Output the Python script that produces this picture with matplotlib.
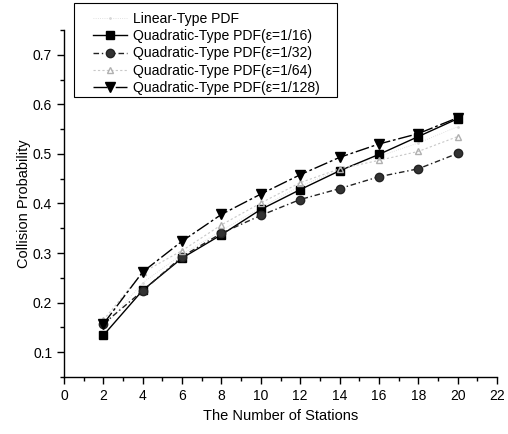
import matplotlib
matplotlib.use("Agg")
import matplotlib.pyplot as plt
from matplotlib.patches import Rectangle
from matplotlib.ticker import MultipleLocator

plt.rcParams['font.family'] = ['Liberation Sans', 'DejaVu Sans']

stations = [2, 4, 6, 8, 10, 12, 14, 16, 18, 20]
linear_pdf = [0.150, 0.240, 0.298, 0.345, 0.392, 0.435, 0.468, 0.495, 0.522, 0.555]
quad_16 = [0.134, 0.225, 0.290, 0.337, 0.388, 0.428, 0.466, 0.499, 0.535, 0.571]
quad_32 = [0.157, 0.224, 0.293, 0.340, 0.376, 0.408, 0.430, 0.454, 0.470, 0.501]
quad_64 = [0.165, 0.261, 0.305, 0.357, 0.401, 0.442, 0.470, 0.487, 0.505, 0.535]
quad_128 = [0.157, 0.262, 0.324, 0.378, 0.419, 0.458, 0.493, 0.520, 0.541, 0.573]

labels = [
    "Linear-Type PDF",
    "Quadratic-Type PDF(\u03b5=1/16)",
    "Quadratic-Type PDF(\u03b5=1/32)",
    "Quadratic-Type PDF(\u03b5=1/64)",
    "Quadratic-Type PDF(\u03b5=1/128)",
]

W, H = 508, 434
fig = plt.figure(figsize=(W / 100, H / 100), dpi=100)
ax = fig.add_axes([64 / W, 1 - 377 / H, (497 - 64) / W, (377 - 30) / H])

ax.plot(stations, linear_pdf, color='#d8d8d8', lw=0.6, ls=':', marker='.', ms=2,
        label=labels[0])
ax.plot(stations, quad_16, color='black', lw=1.0, ls='-', marker='s', ms=6,
        label=labels[1])
ax.plot(stations, quad_32, color='#222222', lw=1.0, ls=(0, (4, 2, 1, 2)), marker='o', ms=6,
        markerfacecolor='#333333', label=labels[2])
ax.plot(stations, quad_64, color='#c8c8c8', lw=0.8, ls=(0, (2, 2)), marker='^', ms=5,
        markerfacecolor='none', markeredgecolor='#b0b0b0', label=labels[3])
ax.plot(stations, quad_128, color='black', lw=1.0, ls=(0, (10, 2, 2, 2)), marker='v', ms=7,
        label=labels[4])

ax.set_xlim(0, 22)
ax.set_ylim(0.05, 0.75)
ax.xaxis.set_major_locator(MultipleLocator(2))
ax.xaxis.set_minor_locator(MultipleLocator(1))
ax.yaxis.set_minor_locator(MultipleLocator(0.05))
ax.set_yticks([0.1, 0.2, 0.3, 0.4, 0.5, 0.6, 0.7])
ax.set_yticklabels(['0.1', '0.2', '0.3', '0.4', '0.5', '0.6', '0.7'])

for s in ('top', 'right'):
    ax.spines[s].set_visible(False)
for s in ('left', 'bottom'):
    ax.spines[s].set_linewidth(1.0)

ax.tick_params(which='major', direction='out', length=5, width=1, labelsize=10)
ax.tick_params(which='minor', direction='out', length=3, width=1)

ax.set_xlabel("The Number of Stations", fontsize=10.5, labelpad=4.5)
ax.set_ylabel("Collision Probability", fontsize=10.5, labelpad=1.5)

# legend frame drawn separately so its padding can be uneven
frame = Rectangle((74 / W, 1 - 97 / H), (337 - 74) / W, (97 - 3) / H,
                  transform=fig.transFigure, facecolor='white', edgecolor='black',
                  lw=0.8, clip_on=False, zorder=4)
ax.add_patch(frame)

leg = ax.legend(loc='upper left', bbox_to_anchor=(93 / W, 1 - 12 / H),
                bbox_transform=fig.transFigure,
                fontsize=10.1, frameon=False,
                handlelength=2.45, handletextpad=0.42, borderpad=0,
                labelspacing=0.23, borderaxespad=0)
leg.set_zorder(5)

fig.savefig("out.png", dpi=100)
